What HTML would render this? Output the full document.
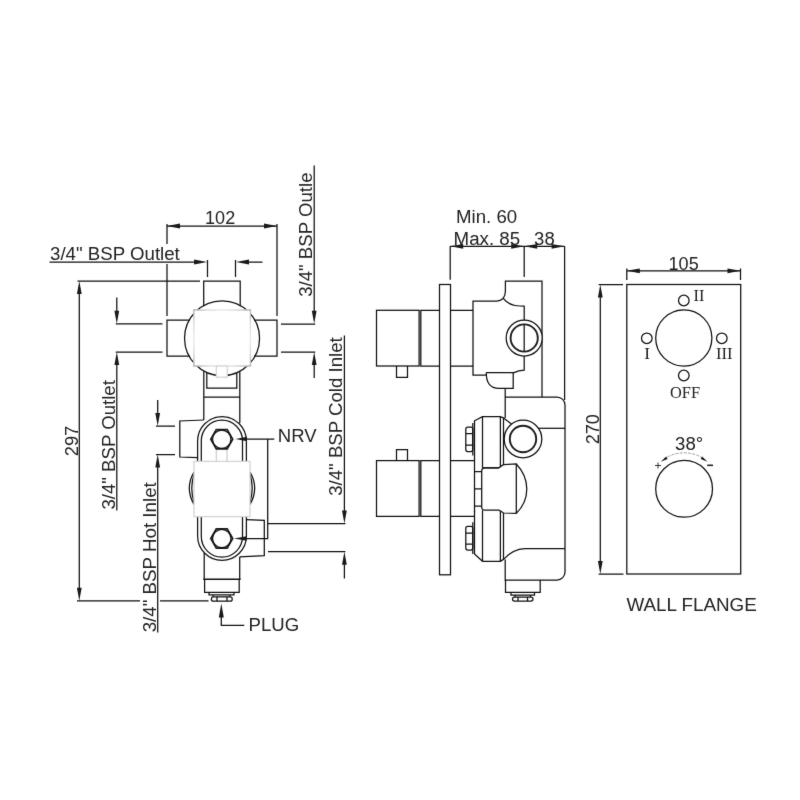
<!DOCTYPE html>
<html><head><meta charset="utf-8">
<style>
html,body{margin:0;padding:0;background:#fff;}
body{width:800px;height:800px;overflow:hidden;font-family:"Liberation Sans",sans-serif;}
svg{display:block;}
.l{stroke:#111;stroke-width:1.25;fill:none;}
.lw{stroke:#111;stroke-width:1.25;fill:#fff;}
.t{stroke:#1c1c1c;stroke-width:1.9;fill:none;}
.g{stroke:#d4d4d4;stroke-width:1.3;fill:#fff;}
.h{stroke:#1c1c1c;stroke-width:1.7;fill:none;stroke-linejoin:miter;}
.a{fill:#1a1a1a;stroke:none;}
text{font-family:"Liberation Sans",sans-serif;font-size:18px;fill:#222;}
.s{font-family:"Liberation Serif",serif;font-size:17.3px;}
</style></head><body>
<svg width="800" height="800" viewBox="0 0 800 800">
<defs><filter id="bl" x="0" y="0" width="800" height="800" filterUnits="userSpaceOnUse" color-interpolation-filters="sRGB"><feConvolveMatrix order="3" kernelMatrix="0.0064 0.0672 0.0064 0.0672 0.7056 0.0672 0.0064 0.0672 0.0064" edgeMode="duplicate" preserveAlpha="false"/></filter></defs>
<rect width="800" height="800" fill="#fff"/>
<g filter="url(#bl)">
<!-- ================= VIEW 1 ================= -->
<g id="v1">
<!-- dimension 102 -->
<path class="l" d="M167 226H277M167 224V244M167 264V316M277 224V316"/>
<path class="a" d="M167 226l13 -2.4v4.8zM277 226l-13 -2.4v4.8z"/>
<text x="205.1" y="224.3" textLength="30.1" lengthAdjust="spacingAndGlyphs">102</text>
<!-- outlet label -->
<text x="50" y="260" textLength="129.8" lengthAdjust="spacingAndGlyphs">3/4" BSP Outlet</text>
<path class="l" d="M49.5 262H200M207.5 260V277M235.5 260V277M242 262H262.5"/>
<path class="a" d="M207.1 262l-13 -2.4v4.8zM236 262l13 -2.4v4.8z"/>
<!-- 297 -->
<path class="l" d="M77.5 281H200M79.3 290V592M77 600.8H140M160 600.8H208.5"/>
<path class="a" d="M79.3 281l-2.4 13h4.8zM79.3 600.8l-2.4 -13h4.8z"/>
<text transform="translate(78,456.3) rotate(-90)" textLength="30.6" lengthAdjust="spacingAndGlyphs">297</text>
<!-- left arm ext -->
<path class="l" d="M115.8 323.8H162.5M115.8 352H162.5M116.8 297.5V315M116.8 360V510.5"/>
<path class="a" d="M116.8 323.8l-2.4 -13h4.8zM116.8 352l-2.4 13h4.8z"/>
<text transform="translate(115,509.6) rotate(-90)" textLength="129.5" lengthAdjust="spacingAndGlyphs">3/4" BSP Outlet</text>
<!-- hot inlet -->
<path class="l" d="M156 426H175M156 454.6H175M157.7 400V418M157.7 463V632.5"/>
<path class="a" d="M157.7 426l-2.4 -13h4.8zM157.7 454.6l-2.4 13h4.8z"/>
<text transform="translate(156,632.3) rotate(-90)" textLength="150.1" lengthAdjust="spacingAndGlyphs">3/4" BSP Hot Inlet</text>
<!-- right outle -->
<path class="l" d="M314.2 165.6V315M281 324H315.2M281 352H315.2M314.2 360V378"/>
<path class="a" d="M314.2 323.8l-2.4 -13h4.8zM314.2 352l-2.4 13h4.8z"/>
<text style="font-size:19px" transform="translate(311.9,296.8) rotate(-90)" textLength="124.3" lengthAdjust="spacingAndGlyphs">3/4" BSP Outle</text>
<!-- cold inlet -->
<path class="l" d="M344.4 335.6V515M267.6 523.7H345.4M268 551.5H345.4M344.4 560V578.4"/>
<path class="a" d="M344.4 523.5l-2.4 -13h4.8zM344.4 551.7l-2.4 13h4.8z"/>
<text transform="translate(342.3,495.8) rotate(-90)" textLength="158.6" lengthAdjust="spacingAndGlyphs">3/4" BSP Cold Inlet</text>
<!-- NRV -->
<text x="277.8" y="442" textLength="38.8" lengthAdjust="spacingAndGlyphs">NRV</text>
<path class="l" d="M244 439H274.3M267.7 439V538.5H244"/>
<!-- PLUG -->
<text x="248.6" y="631" textLength="50.6" lengthAdjust="spacingAndGlyphs">PLUG</text>
<path class="l" d="M221.3 615V625.3H244.3"/>
<path class="a" d="M221.3 603.5l-2.5 14h5z"/>

<!-- body -->
<!-- top tube -->
<path class="l" d="M203.7 306V281H240.2V306"/>
<!-- arms -->
<path class="l" d="M190 320H167V356H190M254 320H277V356H254"/>
<!-- neck -->
<path class="l" d="M203.8 371.2V420M239.8 371.2V423M203.8 397H239.8M206.8 372.6V388H236.8V372.6"/>
<!-- gray square and circle -->
<circle class="l" cx="222.05" cy="338.3" r="37.5"/>
<defs>
<linearGradient id="gh" gradientUnits="userSpaceOnUse" x1="193.9" y1="0" x2="250.4" y2="0"><stop offset="0" stop-color="#b4b4b4"/><stop offset="0.25" stop-color="#dcdcdc"/><stop offset="0.5" stop-color="#ececec"/><stop offset="0.75" stop-color="#dcdcdc"/><stop offset="1" stop-color="#b4b4b4"/></linearGradient>
<linearGradient id="gv" gradientUnits="userSpaceOnUse" x1="0" y1="310" x2="0" y2="366"><stop offset="0" stop-color="#b4b4b4"/><stop offset="0.25" stop-color="#dcdcdc"/><stop offset="0.5" stop-color="#ececec"/><stop offset="0.75" stop-color="#dcdcdc"/><stop offset="1" stop-color="#b4b4b4"/></linearGradient>
</defs>
<rect x="193.9" y="310" width="56.5" height="56" fill="#fff" stroke="none"/>
<path d="M193.2 310H251.1M193.2 366H251.1" stroke="url(#gh)" stroke-width="1.4" fill="none"/>
<path d="M193.9 310V366M250.4 310V366" stroke="url(#gv)" stroke-width="1.4" fill="none"/>
<rect class="g" x="216.3" y="366" width="11" height="11.2"/>
<!-- left box -->
<path class="l" d="M204 420L179.8 421V457L197.5 457.6"/>
<!-- arches upper -->
<path class="l" d="M197.6 462V441A24.4 24.4 0 0 1 246.4 441V462"/>
<path class="l" d="M201.3 462V440.8A20.6 20.6 0 0 1 242.5 440.8V462"/>
<!-- arches lower -->
<path class="l" d="M197.6 516V536A24.4 24.4 0 0 0 246.4 536V516"/>
<path class="l" d="M201.3 516V536.6A20.6 20.6 0 0 0 242.5 536.6V516"/>
<!-- light lines -->
<path d="M216.3 449V462M227 449V462" stroke="#ccc" stroke-width="1.2" fill="none"/>
<!-- side arcs -->
<path class="l" d="M194 472Q184.6 488 194 504.5M194 474.5Q189.5 488 194 502"/>
<path class="l" d="M250 472Q259.4 488 250 504.5M250 474.5Q254.5 488 250 502"/>
<!-- gray body box -->
<rect class="g" x="194" y="461.4" width="56" height="55.2"/>
<!-- hex nuts -->
<path class="h" d="M210.8 439.2L216.30 429.6H227.20L232.7 439.2L227.20 448.8H216.30Z"/>
<circle class="l" cx="221.75" cy="439.2" r="9.2"/>
<path class="h" d="M210.8 538.5L216.30 528.9H227.20L232.7 538.5L227.20 548.1H216.30Z"/>
<circle class="l" cx="221.75" cy="538.5" r="9.2"/>
<path class="a" d="M235.5 439l11.5 -2.2v4.4zM234 538.5l12.5 -2.2v4.4z"/>
<!-- right box -->
<path class="l" d="M246.4 519.7L264.3 520.3V555.6L239.6 556.9"/>
<!-- bottom tube -->
<path class="l" d="M204.2 553V579.2M239.7 557V579.2M204.6 579.2V592.3H239.2V579.2"/>
<path class="l" style="stroke-width:1.6" d="M203.3 579.2H240.6"/>
<!-- plug -->
<path class="l" d="M209 592.3V594.8H234V592.3M213 594.8V596.8M230 594.8V596.8"/>
<rect class="l" x="211.4" y="596.8" width="20.8" height="4.4" rx="2"/>
<path class="l" d="M217 596.8V601.2M227 596.8V601.2"/>
</g>

<!-- ================= VIEW 2 ================= -->
<g id="v2">
<text x="456.1" y="222.6" textLength="61.1" lengthAdjust="spacingAndGlyphs">Min. 60</text>
<text x="453.6" y="244.7" textLength="66.6" lengthAdjust="spacingAndGlyphs">Max. 85</text>
<text x="534.1" y="244.7" textLength="20.6" lengthAdjust="spacingAndGlyphs">38</text>
<path class="l" d="M450.2 246.3H564.6M450.2 246.3V279.8M524.2 246.3V277M564.6 246.3V400"/>
<path class="a" d="M450.2 246.3l13 -2.4v4.8zM524.2 246.3l-13 -2.4v4.8zM524.2 246.3l13 -2.4v4.8zM564.6 246.3l-13 -2.4v4.8z"/>
<!-- upper handle -->
<rect class="l" x="376.5" y="310.3" width="42.6" height="55.7"/>
<path class="l" d="M439.5 310.3H420.8V366H439.5"/>
<path class="l" d="M396.5 366V377.3H407.5V366"/>
<!-- lower handle -->
<rect class="l" x="376.5" y="460.6" width="42.6" height="55.8"/>
<path class="l" d="M439.5 460.6H420.8V516.4H439.5"/>
<path class="l" d="M396.5 460.6V449.5H407.5V460.6"/>
<!-- plate -->
<rect class="l" x="439.5" y="284.5" width="11" height="290.3"/>
<!-- upper stem -->
<path class="l" d="M450.5 310.3H473M450.5 366H473"/>
<!-- lower stem -->
<path class="l" d="M450.5 460.5H474.6M450.5 516.3H474.6"/>
<!-- upper body -->
<path class="l" d="M486.3 375H473V301.2H496.5Q505.4 300.5 505.4 291V281H542V397"/>
<path class="l" d="M503.3 298.3Q509 305.8 520 306H524.2V370.2Q518.5 370.5 514 372.6H486.3"/>
<path class="l" d="M486.3 372.6Q486 388.4 499 388.4H513.2V372.6"/>
<circle class="lw" cx="524.2" cy="338" r="18"/>
<circle class="t" cx="524.2" cy="338" r="13.6"/>
<path class="l" d="M524.2 324.4V351.6"/>
<!-- lower main body -->
<path class="l" d="M505.2 388.4V418M505.2 397H557A8 8 0 0 1 565 405V572A8 8 0 0 1 557 580H505.2V559.5"/>
<path class="l" d="M538.5 428.3H565"/>
<!-- lower port -->
<path class="l" d="M503.5 418L511.5 424"/>
<circle class="lw" cx="523" cy="439" r="18.8"/>
<circle class="t" cx="523" cy="439" r="13.2"/>
<!-- upper cap -->
<path class="l" d="M474.5 470V420.8L482.5 416.6H500.4L503.5 418V464.6L498.8 467.8H482.5"/>
<path class="l" d="M482.5 416.6V467.8M500.4 416.6V466.8"/>
<!-- upper nut -->
<rect class="l" x="465.8" y="427" width="7" height="24.5" rx="2"/>
<path class="l" d="M465.8 433.6H472.8M465.8 445H472.8M472.8 423V455.5"/>
<!-- column ticks -->
<path class="l" d="M474.5 470V512M474.5 471.5H481.7M474.5 488.8H481.7M474.5 506H481.7"/>
<!-- thermostat bump -->
<path class="l" d="M503.5 464.6L516.3 464V513.4L503.5 513Q500 510.5 498.8 510.2H484.7A3 3 0 0 1 481.7 507.2V470.8A3 3 0 0 1 484.7 467.8H498.8"/>
<path class="l" d="M516.3 464Q526.8 475 526.8 489Q526.8 503 516.3 513.4"/>
<!-- lower cap -->
<path class="l" d="M474.5 511V554L482.5 561.3H500.4L503.5 559.3V513"/>
<path class="l" d="M482.5 510.2V561.3M500.4 511V561.3"/>
<path class="l" d="M503.5 559.3Q513 549 524.8 548.6H565"/>
<!-- lower nut -->
<rect class="l" x="465.8" y="526.4" width="7" height="23.6" rx="2"/>
<path class="l" d="M465.8 533H472.8M465.8 544H472.8M472.8 522.3V554"/>
<!-- bottom neck & plug -->
<path class="l" d="M505.5 580V592.3H540.2V580"/>
<path class="l" d="M511 592.3V595H534.5V592.3"/>
<rect class="l" x="512.5" y="597" width="20.5" height="4" rx="2"/>
<path class="l" d="M515 595V597M530.5 595V597M518 597V601M527.5 597V601"/>
</g>
<!-- ================= VIEW 3 ================= -->
<g id="v3">
<text x="668.6" y="269.5" textLength="30.1" lengthAdjust="spacingAndGlyphs">105</text>
<path class="l" d="M626.8 270.8H740.5M626.8 268.5V280M740.5 268.5V280"/>
<path class="a" d="M626.8 270.8l13 -2.4v4.8zM740.5 270.8l-13 -2.4v4.8z"/>
<rect class="l" x="626.8" y="284.5" width="113.9" height="289.5"/>
<path class="l" d="M598.7 284.5H623M600.3 293V566M598.6 574H623.5"/>
<path class="a" d="M600.3 284.5l-2.4 13h4.8zM600.3 574l-2.4 -13h4.8z"/>
<text transform="translate(599.3,444.3) rotate(-90)" textLength="30.1" lengthAdjust="spacingAndGlyphs">270</text>
<circle class="l" cx="683.8" cy="338" r="28.1"/>
<circle class="l" cx="683.8" cy="300.5" r="5.3"/>
<circle class="l" cx="646.8" cy="338.3" r="5.3"/>
<circle class="l" cx="721.8" cy="338.3" r="5.3"/>
<circle class="l" cx="683.8" cy="375.5" r="5.3"/>
<text class="s" x="693.6" y="301.2" textLength="10.8" lengthAdjust="spacingAndGlyphs">II</text>
<text class="s" x="644.3" y="358.8" textLength="5.8" lengthAdjust="spacingAndGlyphs">I</text>
<text class="s" x="716.1" y="358.8" textLength="16.5" lengthAdjust="spacingAndGlyphs">III</text>
<text class="s" x="670" y="398" textLength="30" lengthAdjust="spacingAndGlyphs">OFF</text>
<circle class="l" cx="684.1" cy="488.8" r="28.4"/>
<text x="675.1" y="450.4" textLength="28.1" lengthAdjust="spacingAndGlyphs">38°</text>
<path d="M664 459A36 36 0 0 1 704.3 459" stroke="#888" stroke-width="0.8" fill="none" stroke-dasharray="3 1.2"/>
<path class="a" d="M660.8 461.8L666.2 456.6L667.6 458.9zM707.5 461.8L702.1 456.6L700.7 458.9z"/>
<path d="M655 465.5H661M658 462.5V468.5" stroke="#333" stroke-width="1" fill="none"/>
<path d="M707.2 465.3H713" stroke="#222" stroke-width="1.6" fill="none"/>
<text x="626.4" y="610.8" textLength="130.4" lengthAdjust="spacingAndGlyphs">WALL FLANGE</text>
</g>
</g>
</svg>
</body></html>
